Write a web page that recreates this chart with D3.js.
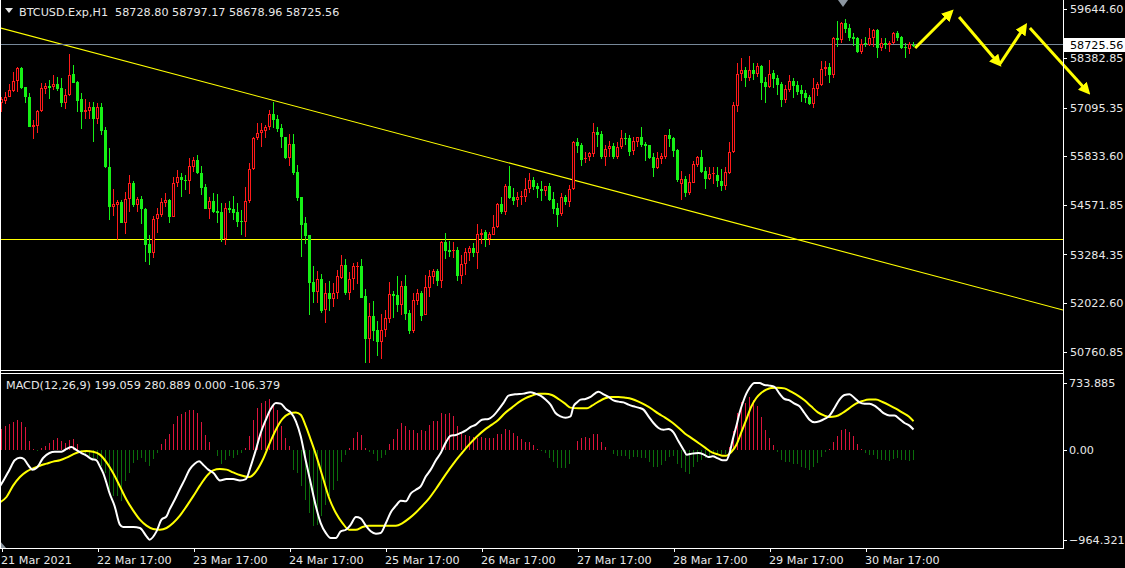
<!DOCTYPE html>
<html><head><meta charset="utf-8">
<script src="https://cdn.jsdelivr.net/npm/d3@7"></script>
<style>html,body{margin:0;padding:0;background:#000;overflow:hidden}svg{display:block}</style>
</head><body>
<script>
// ---------- DATA ----------
const symbolTitle = "BTCUSD.Exp,H1";
const lastBarOHLC = ["58728.80", "58797.17", "58678.96", "58725.56"];
const macdTitle = "MACD(12,26,9) 199.059 280.889 0.000 -106.379";

const openP = [57221,57265,57377,57533,57776,58122,57621,57362,56599,56625,
57006,57585,57655,57621,57707,57595,57221,57413,57966,57766,
57310,56988,57014,57110,56791,57110,56513,55553,54523,54575,
54645,54108,54715,55130,54567,54715,54455,53556,53330,54196,
54316,54627,54697,54264,55130,55302,55216,55198,55561,55735,
55389,55042,54473,54671,54412,54386,53677,54481,54455,54386,
54152,54134,54679,55493,56298,56427,56495,56583,56928,56799,
56565,56324,55787,56150,55423,54775,54092,53789,52570,52318,
52640,51843,52276,52128,52276,52681,53003,52276,52640,52967,
52985,52206,51098,51687,51324,51005,51324,51617,52258,52232,
51972,52466,51773,51306,52084,52276,51721,52422,52691,52855,
52604,53607,53400,53366,53400,52733,53037,53330,53452,53330,
53781,53859,53693,53797,53989,54593,54386,55060,54783,54697,
54767,54783,54975,55216,55060,54983,54931,55060,54723,54489,
54334,54767,54653,54975,56202,56124,55753,55805,55883,56461,
56409,55821,56028,56098,55821,56064,56306,56306,55960,56210,
56324,56150,56116,55805,55527,55769,55821,56376,56306,55994,
55112,55234,54886,55146,55613,55805,55441,55250,55371,55354,
55190,55060,55389,55943,57144,57958,58070,57870,58070,57966,
58174,57758,57637,58000,57862,57707,57291,57551,57792,57673,
57551,57465,57362,57188,57585,57688,58088,58140,57940,58900,
58848,59281,59159,58934,58900,58537,58762,58726,58900,59108,
58648,58762,58710,58762,59022,58918,58667,58622,58728.80];

const highP = [57377,57491,57698,58018,58140,58156,57637,57481,56773,57032,
57725,57725,57810,57940,57880,57854,57569,58485,58200,57792,
57465,57310,57249,57240,57206,57206,56583,56046,54974,54697,
54697,54913,55345,55198,54783,54801,54481,53789,54282,54481,
54741,54871,54715,55302,55475,55389,55345,55779,55805,55865,
55579,55112,54783,54887,54853,54627,54611,54663,54801,54611,
54437,55042,55665,56340,56687,56687,56643,57032,57247,56902,
56669,56340,56409,56409,55597,54775,54256,53789,52985,52847,
52777,52536,52596,52536,52881,53270,53158,52829,53055,53089,
53158,52380,52016,52077,51550,51739,51843,52570,52328,52725,
52596,52751,51843,52292,52380,52328,52743,52881,52915,52915,
53630,53849,53633,53607,53470,53262,53452,53512,53573,54074,
53937,53919,53875,54300,54611,54783,55112,55579,55008,54905,
54939,55268,55389,55302,55130,55182,55060,55130,54913,54611,
54879,54827,55086,56236,56306,56167,55943,55951,56687,56583,
56479,56132,56220,56184,56202,56513,56427,56376,56324,56340,
56583,56202,56124,55924,55943,55924,56392,56531,56340,56012,
55441,55320,55372,55717,55839,55994,55561,55545,55545,55561,
55501,55545,56202,57247,58259,58373,58156,58433,58243,58243,
58200,57896,58329,58070,57932,57766,57681,57940,57854,57792,
57681,57551,57421,57862,57766,58311,58311,58243,58934,59341,
59323,59393,59263,59022,58934,58866,58918,59159,59141,59126,
58892,58900,58830,59056,59090,58952,58762,58796,58797.17];

const lowP = [56988,57188,57369,57507,57507,57569,57206,56583,56288,56443,
56988,57447,57325,57551,57533,57118,57066,57395,57725,56988,
56547,56806,56791,56210,56661,56383,55519,54178,54282,53659,
54092,53815,54394,54523,54394,54074,53088,53011,53192,53849,
54264,54523,54108,54248,55042,54783,54956,54853,55431,55371,
54827,54455,54212,54351,54092,53615,53530,54351,54178,54004,
53789,53729,54627,55475,56254,56064,56298,56513,56557,56469,
56038,55769,55579,55354,54679,53226,53556,51721,52016,52016,
51757,51514,51825,51912,52120,52655,52232,52102,52362,52518,
52146,50476,50476,51046,50650,50564,51135,51514,51635,51800,
51713,51583,51220,51238,51972,51565,51705,52172,52518,52466,
52422,53158,53226,53184,52604,52518,52751,53122,53226,52915,
53556,53486,53538,53781,53963,54334,54308,54715,54567,54507,
54567,54653,54871,54956,54749,54679,54801,54680,54334,53989,
54282,54567,54524,54956,55917,55579,55649,55717,55821,56080,
55753,55579,55821,55753,55753,56012,56132,55839,55857,56080,
56064,55717,55769,55301,55493,55631,55769,56064,55821,55172,
54697,54783,54835,55130,55561,55389,54990,55216,55112,55026,
54939,54956,55371,55917,56988,57792,57637,57792,57810,57896,
57291,57206,57595,57595,57413,57118,57221,57507,57336,57421,
57247,57221,57162,57092,57395,57655,57914,57740,57862,58659,
58778,59038,58830,58692,58503,58485,58659,58692,58674,58389,
58571,58607,58545,58744,58830,58622,58389,58485,58678.96];

const closeP = [57310,57377,57551,57776,58122,57603,57362,56599,56643,57006,
57595,57655,57611,57707,57577,57221,57421,57932,57740,57273,
56988,57032,57110,56791,57110,56495,55545,54523,54593,54645,
54108,54715,55130,54567,54715,54455,53541,53330,54196,54334,
54645,54697,54264,55130,55285,55216,55198,55579,55735,55389,
55016,54473,54671,54394,54368,53677,54481,54437,54368,54134,
54134,54679,55493,56298,56427,56513,56591,56928,56773,56547,
56324,55787,56150,55405,54757,54056,53770,52552,52318,52640,
51825,52276,52120,52276,52725,53003,52292,52640,52985,52985,
52163,51098,51687,51306,51005,51324,51628,52258,52206,51972,
52466,51739,51306,52102,52276,51695,52432,52725,52855,52604,
53607,53366,53348,53400,52725,53037,53348,53452,53330,53815,
53833,53693,53815,53989,54593,54386,55060,54757,54679,54783,
54801,54983,55216,55042,54975,54939,55052,54697,54473,54316,
54775,54653,54983,56202,56098,55735,55795,55909,56461,56383,
55821,56028,56098,55821,56064,56306,56272,55950,56220,56324,
56132,56098,55787,55527,55787,55839,56376,56288,55976,55216,
55234,54886,55164,55631,55805,55423,55250,55371,55389,55190,
55060,55423,55943,57162,57966,58070,57870,58070,57966,58174,
57740,57637,57966,57836,57681,57291,57585,57792,57655,57507,
57439,57343,57188,57595,57707,58088,58140,57940,58900,58848,
59281,59141,58900,58882,58529,58744,58744,58900,59108,58648,
58762,58710,58762,59022,58900,58648,58633,58744,58725.56];

// MACD histogram, one value per bar
const macdHist = [204,230,253,276,296,270,224,86,5,-13,
13,39,66,99,112,86,66,99,105,53,
-26,-46,-59,-79,-92,-165,-230,-395,-461,-461,
-510,-309,-230,-132,-105,-86,-118,-158,-92,-33,
53,105,151,257,329,355,368,388,395,362,
270,145,72,-3,-59,-138,-105,-59,-79,-50,
-33,13,138,296,411,461,480,500,441,388,
237,118,39,-197,-230,-362,-494,-625,-757,-740,
-658,-543,-461,-395,-313,-125,-53,20,118,171,
145,13,-20,-39,-112,-86,-53,59,105,204,
263,237,191,191,165,191,184,243,283,283,
362,349,362,336,237,171,145,138,125,115,
125,118,115,118,151,151,204,191,165,138,
105,79,79,49,7,-13,-33,-79,-125,-184,
-184,-178,-138,3,86,118,125,118,151,151,
79,26,-3,-39,-59,-59,-59,-92,-72,-72,
-79,-86,-125,-171,-171,-151,-112,-72,-66,-138,
-178,-217,-237,-171,-125,-105,-86,-62,-39,-39,
-39,-39,26,181,362,474,461,520,494,434,
322,191,112,46,-20,-99,-125,-125,-138,-145,
-171,-178,-197,-171,-132,-72,-20,7,79,138,
191,204,171,132,59,7,-33,-53,-53,-92,
-105,-105,-112,-92,-86,-105,-105,-112,-106.379];

// MACD main (white) line: [bar, value]
const macdLine = [[0.6,-362],[1.6,-296],[3,-197],[4.3,-105],[5.6,-79],[6.6,-92],[7.6,-148],[8.75,-197],[9.75,-181],[11.4,-82],[13,-33],[14.3,-20],[16,-20],[17.25,7],[18.5,26],[19.6,0],[21,-33],[22.25,-59],[23.5,-92],[24.75,-105],[25.6,-165],[26.4,-230],[27.25,-329],[28,-428],[29.3,-559],[30.6,-740],[31.4,-763],[34,-763],[35.6,-773],[37.25,-855],[38,-888],[39.75,-806],[41,-691],[42.25,-658],[43,-592],[44.3,-494],[45.6,-388],[46.8,-296],[48,-197],[49.3,-138],[50.4,-115],[51.4,-148],[52.7,-197],[54,-230],[55.6,-303],[57.25,-290],[58.9,-290],[60.6,-303],[62.1,-290],[63.3,-165],[64.6,0],[65.8,165],[67.1,296],[68.3,401],[69.6,461],[70.8,454],[72.1,401],[73.3,368],[74.6,280],[75.8,132],[77.1,-115],[78.3,-329],[79.6,-559],[80.8,-724],[82.1,-823],[83.3,-872],[84.6,-872],[85.8,-806],[87.1,-790],[88.3,-740],[89.6,-665],[90.8,-678],[92.1,-750],[93.3,-806],[94.6,-829],[95.8,-823],[97.1,-724],[98.3,-619],[99.6,-553],[100.8,-503],[102.1,-510],[103.3,-434],[104.6,-395],[105.8,-362],[107.1,-263],[108.3,-197],[109.6,-105],[110.8,-33],[112.1,72],[113.3,138],[114.6,145],[115.8,165],[117.1,191],[118.3,224],[119.6,247],[121.1,296],[122.75,303],[124,336],[125.25,395],[126.5,461],[127.75,533],[129.4,546],[131.5,553],[133.2,566],[134.5,553],[135.75,533],[137,494],[138.25,444],[139.5,362],[140.75,329],[142,316],[143.25,329],[144,428],[144.9,467],[145.75,494],[147,500],[148.25,520],[149.5,559],[150.25,572],[151.5,546],[152.75,520],[154,487],[155.25,474],[156.5,467],[157.75,444],[159,428],[160.25,415],[161.5,395],[162.75,329],[164,263],[165.25,214],[166.5,197],[167.75,204],[169,171],[170.25,82],[171.5,0],[172.3,-49],[173.6,-39],[175.25,-33],[176.5,-46],[177.75,-72],[178.8,-66],[180.1,-86],[181.3,-105],[182.2,-105],[183,-33],[183.8,99],[184.7,230],[185.5,362],[186.3,461],[187.2,553],[188,609],[189.25,658],[190.5,658],[191.75,638],[193,632],[194.25,619],[195.5,553],[196.75,500],[198,487],[199.25,454],[200.5,428],[201.75,362],[203,296],[204.25,270],[205.5,280],[206.75,303],[208,336],[209.25,411],[210.5,494],[211.75,540],[213,546],[214.25,510],[215.5,467],[216.75,454],[218,454],[219.25,434],[220.5,395],[221.75,355],[223,336],[224.25,336],[225.5,303],[226.75,263],[228,237],[229,199.059]];

// Signal (yellow) line: [bar, value]
const signalLine = [[0.6,-520],[2.25,-467],[3.9,-355],[5.6,-270],[7.25,-217],[8.9,-184],[10.6,-158],[12.25,-138],[13.9,-118],[15.6,-105],[17.25,-79],[18.9,-46],[20.6,-20],[22.25,-13],[23.9,-20],[25.6,-49],[27.25,-125],[28.9,-230],[30.6,-362],[32.25,-494],[33.9,-599],[35.6,-691],[37.25,-750],[38.9,-783],[40.6,-790],[42.25,-773],[43.9,-724],[45.6,-651],[47.25,-559],[48.9,-461],[50.6,-355],[52.25,-263],[53.9,-204],[55.6,-191],[57.25,-197],[58.9,-224],[60.6,-250],[62.9,-270],[64.6,-217],[66.25,-105],[67.9,49],[69.6,197],[71.25,303],[72.9,355],[74.6,368],[75.8,345],[77.1,230],[78.3,99],[79.6,-49],[81.25,-263],[82.9,-477],[84.6,-625],[86.25,-724],[87.9,-790],[89.6,-790],[91.25,-763],[92.9,-750],[94.6,-750],[96.25,-750],[97.9,-750],[99.6,-750],[101.25,-724],[102.9,-678],[104.6,-619],[106.25,-553],[107.9,-480],[109.6,-388],[111.25,-290],[112.9,-197],[114.6,-105],[116.25,-26],[117.9,50],[119.6,120],[121.9,200],[123.6,247],[125.25,296],[126.9,362],[128.6,415],[130.25,467],[131.9,507],[133.6,533],[135.25,553],[136.9,553],[138.6,540],[140.25,500],[141.9,454],[143.2,415],[145.25,408],[147.4,408],[148.6,434],[150.25,474],[151.9,507],[153.6,520],[155.25,520],[156.9,513],[158.6,500],[160.25,474],[161.9,441],[163.6,401],[165.25,355],[166.9,316],[168.6,270],[170.25,217],[171.9,158],[173.6,112],[175.25,66],[176.9,20],[178.6,-26],[180.1,-46],[181.3,-59],[182.2,-59],[183.4,-26],[184.7,46],[185.9,165],[187.2,296],[188.4,421],[189.7,510],[190.9,559],[192.2,592],[193.4,609],[195.1,612],[196.75,605],[198.4,572],[200.1,533],[201.75,487],[203.4,428],[205.1,368],[206.75,336],[208,322],[209.6,329],[211.25,362],[212.9,408],[214.6,454],[216.25,480],[217.9,494],[219.6,494],[221.25,470],[222.9,440],[224.6,405],[226.25,365],[227.9,325],[229,280.889]];

// axis ticks
const priceTicks = [59644.60, 58382.85, 57095.35, 55833.60, 54571.85, 53284.35, 52022.60, 50760.85];
const macdTicks = [733.885, 0, -964.321];
const timeTickBars = [1, 25, 49, 73, 97, 121, 145, 169, 193, 217];
const timeTickLabels = ["21 Mar 2021","22 Mar 17:00","23 Mar 17:00","24 Mar 17:00","25 Mar 17:00","26 Mar 17:00","27 Mar 17:00","28 Mar 17:00","29 Mar 17:00","30 Mar 17:00"];

// drawn objects
const bidPrice = 58725.56;
const supportPrice = 53659;
const trendBars = [1, 261];
const trendPrices = [59153, 51991];
const arrowStartBars   = [229.4, 240.4, 250.6, 258.1];
const arrowStartPrices = [58641, 59445, 58225, 59160];
const arrowEndBars     = [238.4, 250.4, 256.9, 272.6];
const arrowEndPrices   = [59575, 58225, 59211, 57499];

// ---------- LAYOUT / STYLE ----------
const W = 1125, H = 568;
const plotR = 1063, mainB = 370, macdT = 374, macdB = 548;
const RED = "#ff1a1a", LIME = "#16f016", TXT = "#e8e8e8";
const HRED = "#dc143c", HGREEN = "#0b6e0b";
const FONT = "DejaVu Sans, Verdana, sans-serif";
const FS = 11.2;

const svg = d3.select("body").append("svg").attr("width", W).attr("height", H)
  .style("background", "#000").attr("font-family", FONT).attr("font-size", FS);

const defs = svg.append("defs");
defs.append("clipPath").attr("id", "clipMain").append("rect").attr("x", 0).attr("y", 0).attr("width", plotR).attr("height", mainB);
defs.append("clipPath").attr("id", "clipMacd").append("rect").attr("x", 0).attr("y", macdT).attr("width", plotR).attr("height", macdB - macdT);
defs.append("marker").attr("id", "ahead").attr("viewBox", "0 0 10 10").attr("refX", 7).attr("refY", 5)
  .attr("markerWidth", 4).attr("markerHeight", 4).attr("orient", "auto")
  .append("path").attr("d", "M0,0 L10,5 L0,10 Z").attr("fill", "#ffff00");

const x = d3.scaleLinear().domain([1, 265]).range([1.5, 1057.5]);
const y = d3.scaleLinear().domain([50286, 59886]).range([mainB, 0]);
const ym = d3.scaleLinear().domain([-964.321, 733.885]).range([547.4, 375.3]);
const px = b => Math.round(x(b) - 0.5) + 0.5;

// ---------- MAIN PANEL ----------
const gMain = svg.append("g").attr("clip-path", "url(#clipMain)");

// trend line (extended across the panel)
const slope = (trendPrices[1] - trendPrices[0]) / (trendBars[1] - trendBars[0]);
const tb0 = x.invert(0), tb1 = x.invert(plotR);
gMain.append("line")
  .attr("x1", x(tb0)).attr("y1", y(trendPrices[0] + slope * (tb0 - trendBars[0])))
  .attr("x2", x(tb1)).attr("y2", y(trendPrices[0] + slope * (tb1 - trendBars[0])))
  .attr("stroke", "#ffff00").attr("stroke-width", 1.1);

// support line
gMain.append("line").attr("x1", 0).attr("x2", plotR)
  .attr("y1", Math.floor(y(supportPrice)) + 0.5).attr("y2", Math.floor(y(supportPrice)) + 0.5)
  .attr("stroke", "#ffff00").attr("stroke-width", 1).attr("shape-rendering", "crispEdges");

// bid line
gMain.append("line").attr("x1", 0).attr("x2", plotR)
  .attr("y1", Math.floor(y(bidPrice)) + 0.5).attr("y2", Math.floor(y(bidPrice)) + 0.5)
  .attr("stroke", "#778899").attr("stroke-width", 1).attr("shape-rendering", "crispEdges");

const candles = openP.map((o, i) => ({ b: i + 1, o, h: highP[i], l: lowP[i], c: closeP[i] }));
const gC = gMain.append("g").attr("shape-rendering", "crispEdges");
const cg = gC.selectAll("g.c").data(candles).join("g").attr("class", "c");
cg.each(function (d) {
  const g = d3.select(this);
  const cx = px(d.b);
  const up = d.c >= d.o;
  const col = up ? RED : LIME;
  const top = Math.round(y(Math.max(d.o, d.c)));
  const bot = Math.round(y(Math.min(d.o, d.c)));
  const yh = Math.round(y(d.h)), yl = Math.round(y(d.l));
  if (up) {
    if (top > yh) g.append("line").attr("x1", cx).attr("x2", cx).attr("y1", yh).attr("y2", top).attr("stroke", col);
    if (yl > bot) g.append("line").attr("x1", cx).attr("x2", cx).attr("y1", bot).attr("y2", yl).attr("stroke", col);
    if (bot - top >= 2) {
      g.append("rect").attr("x", cx - 1).attr("y", top + 0.5).attr("width", 2).attr("height", bot - top - 1)
        .attr("fill", "#000").attr("stroke", col).attr("stroke-width", 1);
    } else {
      g.append("rect").attr("x", cx - 1.5).attr("y", top).attr("width", 3).attr("height", Math.max(1, bot - top)).attr("fill", col);
    }
  } else {
    g.append("line").attr("x1", cx).attr("x2", cx).attr("y1", yh).attr("y2", Math.max(yl, yh + 1)).attr("stroke", col);
    g.append("rect").attr("x", cx - 1.5).attr("y", top).attr("width", 3).attr("height", Math.max(1, bot - top)).attr("fill", col);
  }
});

// forecast arrows (may run over the price scale)
const arrows = arrowStartBars.map((b, i) => ({ b0: b, p0: arrowStartPrices[i], b1: arrowEndBars[i], p1: arrowEndPrices[i] }));
svg.append("g").selectAll("line").data(arrows).join("line")
  .attr("x1", d => x(d.b0)).attr("y1", d => y(d.p0))
  .attr("x2", d => x(d.b1)).attr("y2", d => y(d.p1))
  .attr("stroke", "#ffff00").attr("stroke-width", 3).attr("marker-end", "url(#ahead)");

// chart-shift marker
svg.append("path").attr("d", "M838,0 L848,0 L843,7 Z").attr("fill", "#8c96a0");

// header
svg.append("path").attr("d", "M5,8 L13,8 L9,13 Z").attr("fill", TXT);
svg.append("text").attr("x", 19).attr("y", 12).attr("dy", "0.35em").attr("fill", TXT)
  .attr("xml:space", "preserve").style("white-space", "pre")
  .text(symbolTitle + "  " + lastBarOHLC.join(" "));

// ---------- MACD PANEL ----------
const gM = svg.append("g").attr("clip-path", "url(#clipMacd)");
const zeroY = Math.round(ym(0));
gM.append("g").attr("shape-rendering", "crispEdges").selectAll("rect").data(macdHist).join("rect")
  .attr("x", (d, i) => px(i + 1) - 0.5).attr("width", 1)
  .attr("y", d => d >= 0 ? Math.round(ym(d)) : zeroY)
  .attr("height", d => Math.max(1, Math.abs(Math.round(ym(d)) - zeroY)))
  .attr("fill", d => d >= 0 ? HRED : HGREEN)
  .attr("opacity", d => Math.abs(d) < 4 ? 0 : 1);

const lineGen = d3.line().x(d => x(d[0])).y(d => ym(d[1])).curve(d3.curveMonotoneX);
gM.append("path").attr("d", lineGen(signalLine)).attr("fill", "none").attr("stroke", "#ffff00").attr("stroke-width", 2).attr("stroke-linejoin", "round");
gM.append("path").attr("d", lineGen(macdLine)).attr("fill", "none").attr("stroke", "#ffffff").attr("stroke-width", 2).attr("stroke-linejoin", "round");

svg.append("text").attr("x", 6).attr("y", 385).attr("dy", "0.35em").attr("fill", TXT).text(macdTitle);
svg.append("path").attr("d", "M0,541 L0,548 L6,548 Z").attr("fill", "#8c96a0");

// ---------- FRAMES ----------
const frame = svg.append("g").attr("stroke", "#ffffff").attr("stroke-width", 1).attr("shape-rendering", "crispEdges");
frame.append("line").attr("x1", 0).attr("x2", plotR).attr("y1", mainB + 0.5).attr("y2", mainB + 0.5);
frame.append("line").attr("x1", 0).attr("x2", plotR).attr("y1", macdT - 0.5).attr("y2", macdT - 0.5);
frame.append("line").attr("x1", 0).attr("x2", plotR).attr("y1", macdB + 0.5).attr("y2", macdB + 0.5);
frame.append("line").attr("x1", plotR + 0.5).attr("x2", plotR + 0.5).attr("y1", 0).attr("y2", macdB + 1);
frame.append("line").attr("x1", 0.5).attr("x2", 0.5).attr("y1", 0).attr("y2", macdB + 1);

// ---------- AXES ----------
const styleAxis = g => {
  g.select(".domain").remove();
  g.selectAll(".tick line").attr("stroke", "#ffffff").attr("shape-rendering", "crispEdges");
  g.selectAll(".tick text").attr("fill", TXT).attr("font-family", FONT).attr("font-size", FS);
};

svg.append("g").attr("transform", `translate(${plotR},0)`)
  .call(d3.axisRight(y).tickValues(priceTicks).tickFormat(d3.format(".2f")).tickSize(4).tickPadding(3))
  .call(styleAxis);

// bid price label
const bidY = y(bidPrice);
svg.append("rect").attr("x", plotR + 1).attr("y", Math.round(bidY) - 7).attr("width", W - plotR - 1).attr("height", 14).attr("fill", "#ffffff");
svg.append("text").attr("x", plotR + 7).attr("y", Math.round(bidY)).attr("dy", "0.35em").attr("fill", "#000").text(d3.format(".2f")(bidPrice));

const macdAxis = svg.append("g").attr("transform", `translate(${plotR},0)`)
  .call(d3.axisRight(ym).tickValues(macdTicks).tickFormat(d => d === 0 ? "0.00" : d3.format(".3f")(d)).tickSize(4).tickPadding(2))
  .call(styleAxis);
macdAxis.selectAll(".tick").attr("transform", d => {
  let yy = ym(d);
  if (d === macdTicks[0]) yy += 8;
  if (d === macdTicks[2]) yy -= 7;
  return `translate(0,${Math.round(yy) + 0.5})`;
});

const xAxis = svg.append("g").attr("transform", `translate(0,${macdB})`)
  .call(d3.axisBottom(x).tickValues(timeTickBars).tickFormat((d, i) => timeTickLabels[i]).tickSize(4).tickPadding(6))
  .call(styleAxis);
xAxis.selectAll(".tick line").attr("y1", 1);
xAxis.selectAll(".tick text").attr("text-anchor", "start").attr("x", -1).attr("y", 12).attr("dy", "0.35em");
</script>
</body></html>
